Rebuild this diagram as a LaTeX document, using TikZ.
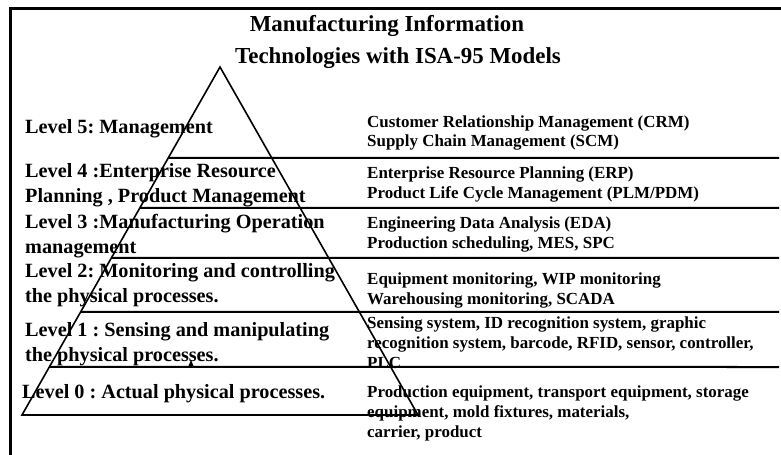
\documentclass[tikz,border=0pt]{standalone}
\usepackage{fontspec}
\setmainfont{Liberation Serif}
\frenchspacing
\usetikzlibrary{calc,arrows,arrows.meta}
\tikzset{
    lvltext/.style = {anchor=west, align=left, inner sep=0pt,
        font=\fontsize{20.3}{25}\selectfont\bfseries},
    techtext/.style = {anchor=west, align=left, inner sep=0pt,
        font=\fontsize{17}{19.8}\selectfont\bfseries},
    headline/.style = {anchor=base, inner sep=0pt,
        font=\fontsize{23}{30}\selectfont\bfseries},
    layer/.style = {draw, line width=2bp},
    border/.style = {draw, line width=3bp, line join=miter}
}

\begin{document}
\begin{tikzpicture}[x=1bp,y=-1bp]
                \useasboundingbox (0,0) rectangle (781,455);
                \draw [border] (10,455) -- (10,8.5) -- (781,8.5);
                \node[headline] (head1) at (387,32) {Manufacturing Information};
                \node[headline] (head2) at (398,64) {Technologies with ISA-95 Models};
                \coordinate (apex) at (220,67);
                \coordinate (bl) at (22,415);
                \coordinate (br) at (418,415);
                \draw [line width=1.6bp] (apex) -- (bl) -- (br) -- cycle;
                \foreach \y in {158,208,258,312,367}
                    \draw [layer] ($(apex)!{(\y-67)/348}!(bl)$) -- (779,\y);
                \coordinate (mark) at (191,367);
                \fill (mark) ++(-3,0) -- ++(6,0) -- ++(-3,-7) -- cycle;
                \node[lvltext] (l5) at (25,129) {Level 5: Management};
                \node[lvltext] (l4) at (25,185) {Level 4 :Enterprise Resource\\Planning , Product Management};
                \node[lvltext] (l3) at (25,236) {Level 3 :Manufacturing Operation\\management};
                \node[lvltext] (l2) at (25,285.5) {Level 2: Monitoring and controlling\\the physical processes.};
                \node[lvltext] (l1) at (25,344.5) {Level 1 : Sensing and manipulating\\the physical processes.};
                \node[lvltext] (l0) at (22,394) {Level 0 : Actual physical processes.};
                \node[techtext] (t5) at (367,133) {Customer Relationship Management (CRM)\\Supply Chain Management (SCM)};
                \node[techtext] (t4) at (367,184.5) {Enterprise Resource Planning (ERP)\\Product Life Cycle Management (PLM/PDM)};
                \node[techtext] (t3) at (367,234.5) {Engineering Data Analysis (EDA)\\Production scheduling, MES, SPC};
                \node[techtext] (t2) at (367,290.5) {Equipment monitoring, WIP monitoring\\Warehousing monitoring, SCADA};
                \node[techtext] (t1) at (367,342.5) {Sensing system, ID recognition system, graphic\\recognition system, barcode, RFID, sensor, controller,\\PLC};
                \node[techtext] (t0) at (367,413.5) {Production equipment, transport equipment, storage\\equipment, mold fixtures, materials,\\carrier, product};
            \end{tikzpicture}
\end{document}
